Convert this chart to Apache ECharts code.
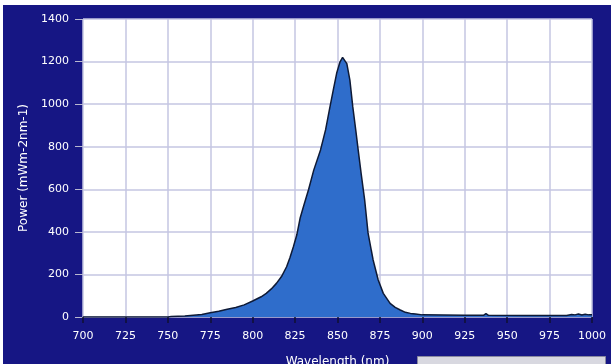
<!DOCTYPE html>
<html>
<head>
<meta charset="utf-8">
<script src="https://cdn.jsdelivr.net/npm/echarts@6/dist/echarts.min.js"></script>
<style>
html,body{margin:0;padding:0;background:#ffffff;width:611px;height:364px;overflow:hidden;}
#chart{position:absolute;left:3px;top:5px;width:608px;height:359px;}
</style>
</head>
<body>
<div id="chart"></div>
<script>
var wavelength = [700,750,752,760,770,775,780,785,790,795,800,805,808,811,814,817,820,822,824,826,828,830,833,836,840,843,845.5,847.5,849.5,851.5,853,855.5,857.3,859,861,862.2,864,866,868,870,871,874,877,881,884,887,890,893,896,900,925,936,937.5,939,960,985,988,990,992,994,996,998,1000];
var power = [0,0,2,5,12,20,27,36,45,57,75,95,111,132,158,190,236,280,330,385,465,520,600,690,785,880,985,1066,1145,1199,1220,1190,1113,988,863,784,670,550,395,310,268,174,111,64,45,33,22,17,14,10,8,8,16,8,7,7,12,10,14,9,13,10,10];
var xTicks = {min:700, max:1000, step:25};
var yTicks = {min:0, max:1400, step:200};
var xName = 'Wavelength (nm)';
var yName = 'Power (mWm-2nm-1)';

var pts = wavelength.map(function(w,i){return [w, power[i]];});
var font = '"DejaVu Sans",sans-serif';
var chart = echarts.init(document.getElementById('chart'));
chart.setOption({
  backgroundColor:'#161684',
  animation:false,
  grid:{left:80,right:19,top:14,bottom:47,show:true,backgroundColor:'#ffffff',borderWidth:0,outerBoundsMode:'none',containLabel:false},
  graphic:[{type:'rect',left:414,top:351,shape:{width:188,height:8},style:{fill:'#d8d8e0',stroke:'#8a8aa0',lineWidth:1},z:100}],
  xAxis:{type:'value',min:xTicks.min,max:xTicks.max,interval:xTicks.step,
    name:xName,nameLocation:'middle',nameGap:39,
    nameTextStyle:{color:'#ffffff',fontSize:12,fontFamily:font},
    axisLine:{show:false},
    axisTick:{show:true,length:6,lineStyle:{color:'#101030',width:1.5}},
    axisLabel:{color:'#ffffff',fontSize:11,fontFamily:font,margin:14,formatter:function(v){return String(v);}},
    splitLine:{show:true,lineStyle:{color:'#c4c6e2',width:1.5}}},
  yAxis:{type:'value',min:yTicks.min,max:yTicks.max,interval:yTicks.step,
    name:yName,nameLocation:'middle',nameGap:53,
    nameTextStyle:{color:'#ffffff',fontSize:12,fontFamily:font},
    axisLine:{show:false},
    axisTick:{show:true,length:8,lineStyle:{color:'#b8b8d0',width:1}},
    axisLabel:{color:'#ffffff',fontSize:11,fontFamily:font,margin:14,formatter:function(v){return String(v);}},
    splitLine:{show:true,lineStyle:{color:'#c4c6e2',width:1.5}}},
  series:[{type:'line',data:pts,symbol:'none',smooth:false,
    lineStyle:{color:'#0e1a36',width:1.5},
    areaStyle:{color:'#2f6dcb',opacity:1}}]
});
</script>
</body>
</html>
